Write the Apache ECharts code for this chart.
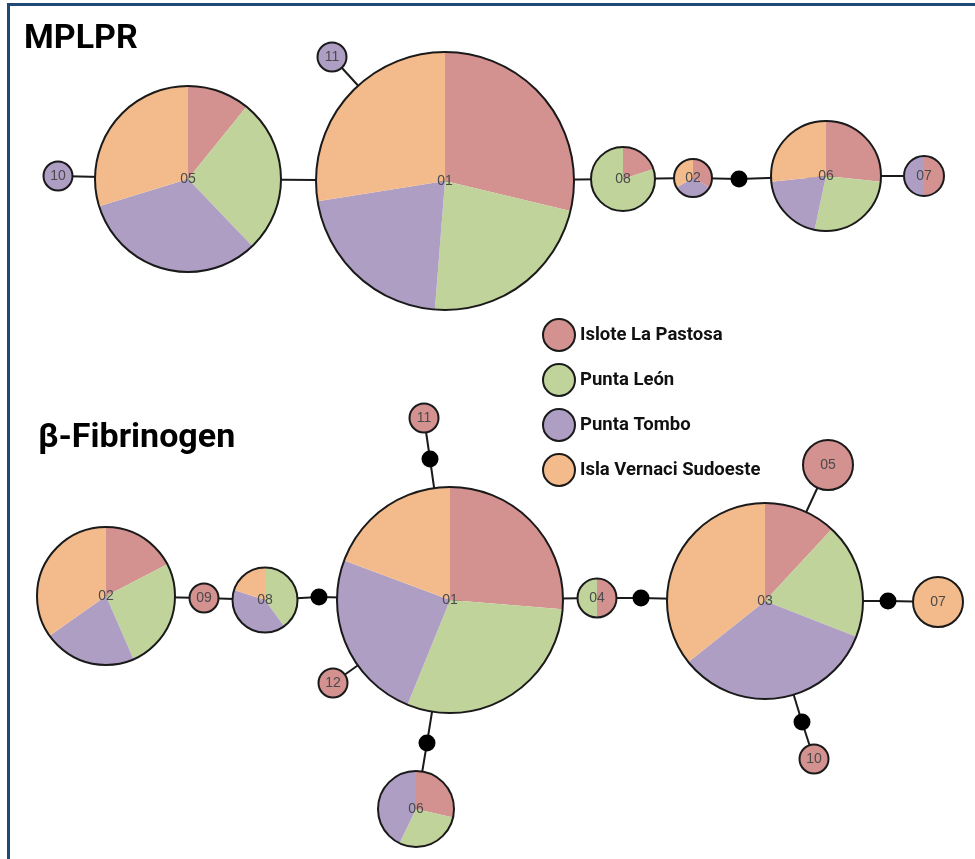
<!DOCTYPE html>
<html>
<head>
<meta charset="utf-8">
<script src="https://cdn.jsdelivr.net/npm/echarts@6/dist/echarts.min.js"></script>
<style>
html,body{margin:0;padding:0;background:#fff;}
#chart{width:975px;height:859px;}
</style>
</head>
<body>
<div id="chart"></div>
<script>
// ---------------- DATA ----------------
const populations = ['Islote La Pastosa', 'Punta León', 'Punta Tombo', 'Isla Vernaci Sudoeste'];

// MPLPR haplotype counts per population
const mplprHaplotypes = ['01', '02', '05', '06', '07', '08', '10', '11'];
const mplprIsloteLaPastosa   = [23, 1, 4, 4, 1, 1, 0, 0];
const mplprPuntaLeon         = [18, 0, 10, 4, 0, 4, 0, 0];
const mplprPuntaTombo        = [17, 1, 12, 3, 1, 0, 1, 1];
const mplprIslaVernaci       = [22, 1, 11, 4, 0, 0, 0, 0];

// β-Fibrinogen haplotype counts per population
const fibHaplotypes = ['01', '02', '03', '04', '05', '06', '07', '08', '09', '10', '11', '12'];
const fibIsloteLaPastosa = [15, 4, 5, 1, 3, 2, 0, 0, 1, 1, 1, 1];
const fibPuntaLeon       = [17, 6, 8, 1, 0, 2, 0, 2, 0, 0, 0, 0];
const fibPuntaTombo      = [14, 5, 14, 0, 0, 3, 0, 2, 0, 0, 0, 0];
const fibIslaVernaci     = [11, 8, 15, 0, 0, 0, 3, 1, 0, 0, 0, 0];

// network edges (haplotype / median-vector connections)
const mplprEdges = [['10','05'],['05','01'],['01','11'],['01','08'],['08','02'],['02','mv1'],['mv1','06'],['06','07']];
const fibEdges = [['02','09'],['09','08'],['08','mvA'],['mvA','01'],['01','mvB'],['mvB','11'],['01','12'],
                  ['01','mvC'],['mvC','06'],['01','04'],['04','mvD'],['mvD','03'],['03','05'],
                  ['03','mvE'],['mvE','07'],['03','mvF'],['mvF','10']];

// ---------------- LAYOUT (positions / sizes) ----------------
const mplprLayout = {
  '01': {x: 445, y: 181, r: 129},
  '02': {x: 693, y: 178, r: 19},
  '05': {x: 188, y: 179, r: 93},
  '06': {x: 826, y: 176, r: 55},
  '07': {x: 924, y: 176, r: 20},
  '08': {x: 623, y: 179, r: 32},
  '10': {x: 58,  y: 176, r: 14.5},
  '11': {x: 332, y: 57,  r: 14.5},
  'mv1': {x: 739, y: 179}
};
const fibLayout = {
  '01': {x: 450, y: 600, r: 113},
  '02': {x: 106, y: 596, r: 69},
  '03': {x: 765, y: 601, r: 98},
  '04': {x: 597, y: 598, r: 19.5},
  '05': {x: 828, y: 465, r: 25},
  '06': {x: 416, y: 809, r: 38},
  '07': {x: 938, y: 602, r: 25},
  '08': {x: 265, y: 600, r: 32.5},
  '09': {x: 204, y: 598, r: 14.5},
  '10': {x: 814, y: 759, r: 14.5},
  '11': {x: 424, y: 418, r: 14.5},
  '12': {x: 333, y: 683, r: 14.5},
  'mvA': {x: 319, y: 597},
  'mvB': {x: 430, y: 459},
  'mvC': {x: 427, y: 743},
  'mvD': {x: 641, y: 598},
  'mvE': {x: 888, y: 601},
  'mvF': {x: 802, y: 722}
};

const popColors = ['#d39190', '#c0d39b', '#af9ec4', '#f3bb8c'];
const W = 975, H = 859;

const chart = echarts.init(document.getElementById('chart'), null, {renderer: 'canvas'});

chart.setOption({
  animation: false,
  backgroundColor: '#fff',
  grid: {left: 0, right: 0, top: 0, bottom: 0},
  xAxis: {type: 'value', min: 0, max: W, show: false},
  yAxis: {type: 'value', min: 0, max: H, inverse: true, show: false},
  series: []
});

function toPx(x, y) { return chart.convertToPixel({gridIndex: 0}, [x, y]); }

const series = [];
const panels = [
  {haps: mplprHaplotypes, cols: [mplprIsloteLaPastosa, mplprPuntaLeon, mplprPuntaTombo, mplprIslaVernaci], layout: mplprLayout, edges: mplprEdges},
  {haps: fibHaplotypes, cols: [fibIsloteLaPastosa, fibPuntaLeon, fibPuntaTombo, fibIslaVernaci], layout: fibLayout, edges: fibEdges}
];

const edgeData = [];
const outlineData = [];
const mvData = [];

panels.forEach(function (pnl, pi) {
  pnl.edges.forEach(function (e) {
    const a = pnl.layout[e[0]], b = pnl.layout[e[1]];
    edgeData.push({coords: [[a.x, a.y], [b.x, b.y]]});
  });
  Object.keys(pnl.layout).forEach(function (k) {
    if (k.indexOf('mv') === 0) mvData.push({name: '', value: [pnl.layout[k].x, pnl.layout[k].y]});
  });
  pnl.haps.forEach(function (h, i) {
    const L = pnl.layout[h];
    const c = toPx(L.x, L.y);
    const data = [];
    populations.forEach(function (pop, j) {
      const v = pnl.cols[j][i];
      if (v > 0) data.push({name: pop, value: v, itemStyle: {color: popColors[j]}});
    });
    series.push({
      type: 'pie',
      name: (pi === 0 ? 'MPLPR ' : 'Fib ') + h,
      center: [c[0], c[1]],
      radius: L.r,
      startAngle: 90,
      clockwise: true,
      silent: true,
      z: 2,
      label: {show: false},
      labelLine: {show: false},
      emphasis: {disabled: true},
      itemStyle: {borderWidth: 0, opacity: 1},
      data: data
    });
    outlineData.push({name: h, value: [L.x, L.y], symbolSize: L.r * 2});
  });
});

series.unshift({
  type: 'lines',
  coordinateSystem: 'cartesian2d',
  silent: true,
  z: 1,
  lineStyle: {color: '#1a1a1a', width: 2, opacity: 1},
  data: edgeData
});
series.push({
  type: 'scatter',
  silent: true,
  z: 5,
  symbol: 'circle',
  itemStyle: {color: 'rgba(0,0,0,0)', borderColor: '#1a1a1a', borderWidth: 2, opacity: 1},
  label: {show: true, position: 'inside', formatter: function (p) { return p.data.name; },
          color: '#4a4a4a', fontSize: 14, fontFamily: 'Liberation Sans'},
  data: outlineData
});
series.push({
  type: 'scatter',
  silent: true,
  z: 5,
  symbol: 'circle',
  symbolSize: 17,
  itemStyle: {color: '#000', opacity: 1},
  data: mvData
});

chart.setOption({
  title: [
    {text: 'MPLPR', left: 19, top: 17, textStyle: {fontSize: 34, fontWeight: 'bold', fontFamily: 'Roboto', color: '#000'}},
    {text: 'β-Fibrinogen', left: 33, top: 416, textStyle: {fontSize: 34, fontWeight: 'bold', fontFamily: 'Roboto', color: '#000'}}
  ],
  legend: {
    data: populations,
    orient: 'vertical',
    left: 542,
    top: 318,
    padding: 0,
    itemWidth: 32,
    itemHeight: 32,
    itemGap: 11,
    icon: 'circle',
    itemStyle: {borderColor: '#1a1a1a', borderWidth: 2},
    textStyle: {fontSize: 18.5, fontWeight: 'bold', fontFamily: 'Roboto', color: '#111'}
  },
  graphic: [
    {type: 'line', shape: {x1: 7, y1: 4.5, x2: 975, y2: 4.5}, style: {stroke: '#1f4a78', lineWidth: 3}, z: 10},
    {type: 'line', shape: {x1: 8.5, y1: 3, x2: 8.5, y2: 859}, style: {stroke: '#1f4a78', lineWidth: 3}, z: 10}
  ],
  series: series
});
</script>
</body>
</html>
